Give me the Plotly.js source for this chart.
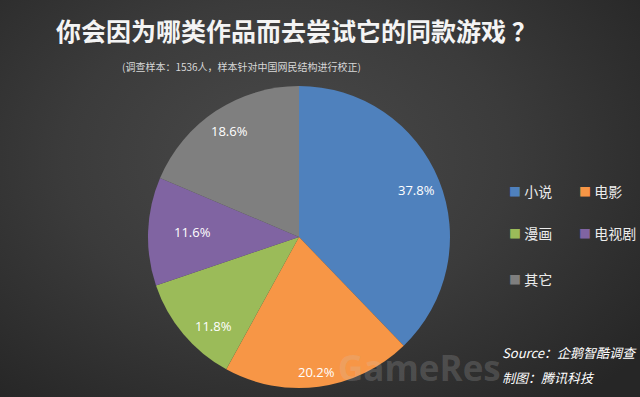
<!DOCTYPE html>
<html><head><meta charset="utf-8">
<script src="https://cdn.plot.ly/plotly-3.0.1.min.js"></script>
<style>
html,body{margin:0;padding:0;width:640px;height:397px;overflow:hidden;
background:radial-gradient(ellipse 70% 80% at 45% 40%, #4a4a4a 0%, #3b3b3b 50%, #262626 100%);}
#chart{width:640px;height:397px;}
</style></head>
<body><div id="chart"></div>
<script>
const categories = ['小说','电影','漫画','电视剧','其它'];
const values = [37.8, 20.2, 11.8, 11.6, 18.6];
const colors = ['#4F81BD','#F79646','#9BBB59','#8064A2','#7F7F7F'];
const titleText = '你会因为哪类作品而去尝试它的同款游戏 ？';
const subtitleText = '(调查样本：1536人，样本针对中国网民结构进行校正)';
const sourceLines = ['Source：企鹅智酷调查','制图：腾讯科技'];

const W = 640, H = 397;
const cx = 299, cy = 237, R = 151;
const labelR = [0.84, 0.9, 0.92, 0.84, 0.84];

const trace = {
  type:'pie', labels:categories, values:values, sort:false, direction:'clockwise', rotation:0,
  marker:{colors:colors, line:{width:0}}, textinfo:'none', hoverinfo:'none', showlegend:false,
  domain:{x:[(cx-R)/W,(cx+R)/W], y:[1-(cy+R)/H, 1-(cy-R)/H]}
};

const annotations = [];
function ann(o){ annotations.push(Object.assign({xref:'paper',yref:'paper',showarrow:false,yanchor:'middle'},o)); }
const total = values.reduce((a,b)=>a+b,0);
let cum = 0;
values.forEach((v,i)=>{
  const mid = (cum + v/2)/total*2*Math.PI;
  cum += v;
  const r = R*labelR[i];
  const px = cx + r*Math.sin(mid), py = cy - r*Math.cos(mid);
  ann({x:px/W,y:1-py/H,text:v.toFixed(1)+'%',
    font:{family:'Open Sans, Noto Sans CJK SC',size:13,color:'#ffffff'}});
});

// legend
const legPos = [[507,191],[577,191],[507,233],[577,233],[507,279]];
categories.forEach((c,i)=>{
  ann({x:legPos[i][0]/W,y:1-legPos[i][1]/H,xanchor:'left',
    text:'<span style="color:'+colors[i]+';font-size:12px">■</span> '+c,
    font:{family:'Noto Sans CJK SC',size:14,color:'#ececec'}});
});

ann({x:296/W,y:1-30/H,text:'<b>'+titleText+'</b>',
  font:{family:'Noto Sans CJK SC',size:25,color:'#f4f4f4'}});
ann({x:241/W,y:1-66/H,text:subtitleText,
  font:{family:'Noto Sans CJK SC',size:10,color:'#d8d8d8'}});
// watermark
ann({x:336/W,y:1-367/H,xanchor:'left',text:'<b>GameRes</b>',
  font:{family:'Open Sans',size:35,color:'rgba(200,200,200,0.2)'}});
sourceLines.forEach((t,i)=>{
  ann({x:500/W,y:1-(352+25*i)/H,xanchor:'left',text:'<i>'+t+'</i>',
    font:{family:'Noto Sans CJK SC',size:13,color:'#ffffff'}});
});

Plotly.newPlot('chart',[trace],{
  width:W,height:H,margin:{l:0,r:0,t:0,b:0},
  paper_bgcolor:'rgba(0,0,0,0)',plot_bgcolor:'rgba(0,0,0,0)',
  annotations:annotations, showlegend:false
},{displayModeBar:false,staticPlot:true});
</script></body></html>
